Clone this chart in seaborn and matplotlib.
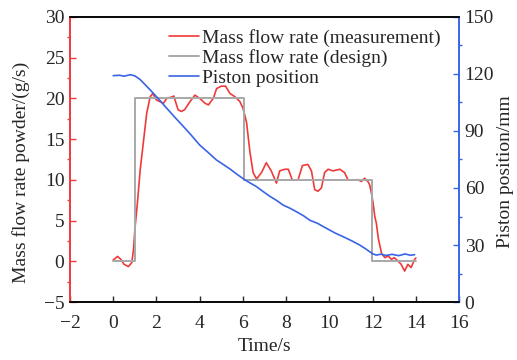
import numpy as np
import pandas as pd
import seaborn as sns
import matplotlib
matplotlib.use("Agg")
import matplotlib.pyplot as plt
from matplotlib.ticker import MultipleLocator

# Measured mass flow rate (g/s)
t_meas = [0.0, 0.2, 0.35, 0.5, 0.7, 0.86, 0.94, 1.0, 1.12, 1.25, 1.55, 1.71, 1.83, 2.0, 2.17, 2.32,
          2.48, 2.75, 2.8, 3.0, 3.15, 3.3, 3.55, 3.78, 4.0, 4.25, 4.4, 4.63, 4.78, 5.0, 5.2, 5.4,
          5.63, 5.86, 6.0, 6.1, 6.17, 6.32, 6.47, 6.63, 6.86, 7.08, 7.31, 7.55, 7.7, 7.94, 8.1,
          8.28, 8.55, 8.75, 9.0, 9.17, 9.32, 9.47, 9.63, 9.78, 9.94, 10.17, 10.48, 10.7, 10.86,
          11.1, 11.32, 11.48, 11.63, 11.78, 11.86, 11.94, 12.02, 12.1, 12.17, 12.27, 12.42, 12.57,
          12.72, 12.87, 13.0, 13.17, 13.32, 13.48, 13.63, 13.78, 13.94, 14.0]
v_meas = [0.16, 0.6, 0.24, -0.37, -0.65, -0.16, 1.5, 3.9, 7.2, 11.3, 18.2, 20.2, 20.6, 19.8, 19.6, 19.4,
          20.0, 20.2, 20.3, 18.6, 18.4, 18.6, 19.6, 20.4, 20.0, 19.4, 19.2, 20.0, 21.2, 21.5, 21.5, 20.6,
          20.2, 19.6, 18.8, 17.8, 17.0, 13.5, 10.9, 10.1, 10.9, 12.1, 11.1, 9.6, 11.1, 11.3, 11.3,
          10.0, 10.0, 11.75, 11.9, 11.1, 8.8, 8.6, 9.0, 10.9, 11.3, 11.1, 11.3, 10.9, 10.0,
          10.0, 10.0, 9.8, 10.2, 9.8, 9.4, 8.4, 7.2, 5.5, 4.7, 2.7, 0.9, 0.45,
          0.65, 0.24, 0.45, 0.04, -0.37, -1.2, -0.37, -0.77, 0.24, 0.4]

# Designed mass flow rate (g/s)
t_design = [0.0, 1.0, 1.0, 6.05, 6.05, 11.95, 11.95, 14.0]
v_design = [0.0, 0.0, 20.0, 20.0, 10.0, 10.0, 0.0, 0.0]

# Piston position (mm)
t_pist = [0.0, 0.3, 0.5, 0.78, 1.0, 1.25, 1.71, 2.1, 2.48, 2.85, 3.25, 3.6, 4.0, 4.4, 4.78, 5.1,
          5.4, 5.75, 6.1, 6.4, 6.63, 6.95, 7.25, 7.55, 7.86, 8.15, 8.48, 8.8, 9.1, 9.45, 9.86,
          10.25, 10.63, 11.0, 11.4, 11.65, 11.86, 12.0, 12.17, 12.4, 12.6, 12.9, 13.2, 13.5,
          13.75, 13.94]
p_pist = [119.1, 119.3, 118.8, 119.6, 119.0, 117.0, 111.6, 106.8, 101.9, 97.2, 92.3, 87.9, 82.6, 78.6, 74.7, 72.3,
          70.0, 67.0, 64.2, 62.2, 60.7, 58.0, 55.6, 53.5, 51.0, 49.5, 47.5, 45.4, 43.0, 41.4, 38.8,
          36.4, 34.4, 32.4, 30.0, 28.2, 26.5, 25.4, 24.7, 25.2, 24.5, 25.1, 24.4, 25.3,
          24.6, 24.9]

df_meas = pd.DataFrame({"t": t_meas, "v": v_meas})
df_design = pd.DataFrame({"t": t_design, "v": v_design})
df_pist = pd.DataFrame({"t": t_pist, "p": p_pist})

sns.set_style("white")
plt.rcParams["font.family"] = ["Liberation Serif", "DejaVu Serif"]
plt.rcParams["mathtext.fontset"] = "stix"

RED = "#f03a3a"
GRAY = "#a8a8a8"
BLUE = "#3a64e6"

fig = plt.figure(figsize=(5.17, 3.6), dpi=100)
ax = fig.add_axes([0.1354, 0.161, 0.7526, 0.792])
ax2 = ax.twinx()

sns.lineplot(data=df_meas, x="t", y="v", ax=ax, color=RED, lw=1.2, sort=False,
             estimator=None, label="Mass flow rate (measurement)", legend=False)
sns.lineplot(data=df_design, x="t", y="v", ax=ax, color=GRAY, lw=1.4, sort=False,
             estimator=None, label="Mass flow rate (design)", legend=False)
sns.lineplot(data=df_pist, x="t", y="p", ax=ax2, color=BLUE, lw=1.2, sort=False,
             estimator=None, label="Piston position", legend=False)

ax.set_xlim(-2, 16)
ax.set_ylim(-5, 30)
ax2.set_ylim(0, 150)
ax.xaxis.set_major_locator(MultipleLocator(2))
ax.yaxis.set_major_locator(MultipleLocator(5))
ax.yaxis.set_minor_locator(MultipleLocator(2.5))
ax2.yaxis.set_major_locator(MultipleLocator(30))
ax2.yaxis.set_minor_locator(MultipleLocator(15))

fs = 14
ax.set_xlabel("Time/s", fontsize=fs)
ax.set_ylabel("Mass flow rate powder/(g/s)", fontsize=fs)
ax2.set_ylabel("Piston position/mm", fontsize=fs, rotation=90)
ax.xaxis.set_label_coords(0.5, -0.125)
ax.yaxis.set_label_coords(-0.103, 0.456)
ax2.yaxis.set_label_coords(1.098, 0.456)

ax.tick_params(axis="x", which="major", direction="in", length=4, width=1, labelsize=fs, pad=9,
               bottom=True, top=False)
ax.tick_params(axis="y", which="major", direction="in", length=4, width=1, labelsize=fs, color=RED,
               left=True, right=False, pad=4)
ax.tick_params(axis="y", which="minor", direction="out", length=2.5, width=1, color=RED, left=True)
ax2.tick_params(axis="y", which="major", direction="in", length=4, width=1, labelsize=fs, color=BLUE,
                right=True, pad=4)
ax2.tick_params(axis="y", which="minor", direction="out", length=2.5, width=1, color=BLUE, right=True)

for a in (ax, ax2):
    for s in a.spines.values():
        s.set_visible(True)
        s.set_linewidth(1.2)
ax2.spines["left"].set_color(RED)
ax2.spines["right"].set_color(BLUE)
ax2.spines["top"].set_color("black")
ax2.spines["bottom"].set_color("black")
ax.spines["left"].set_color(RED)
ax.spines["right"].set_color(BLUE)

h1, l1 = ax.get_legend_handles_labels()
h2, l2 = ax2.get_legend_handles_labels()
leg = ax2.legend(h1 + h2, l1 + l2, loc="upper left", bbox_to_anchor=(0.225, 1.0), frameon=False,
                 fontsize=fs, handlelength=1.55, handletextpad=0.12, labelspacing=0.12,
                 borderaxespad=0.2)

fig.savefig("out.png", dpi=100)
